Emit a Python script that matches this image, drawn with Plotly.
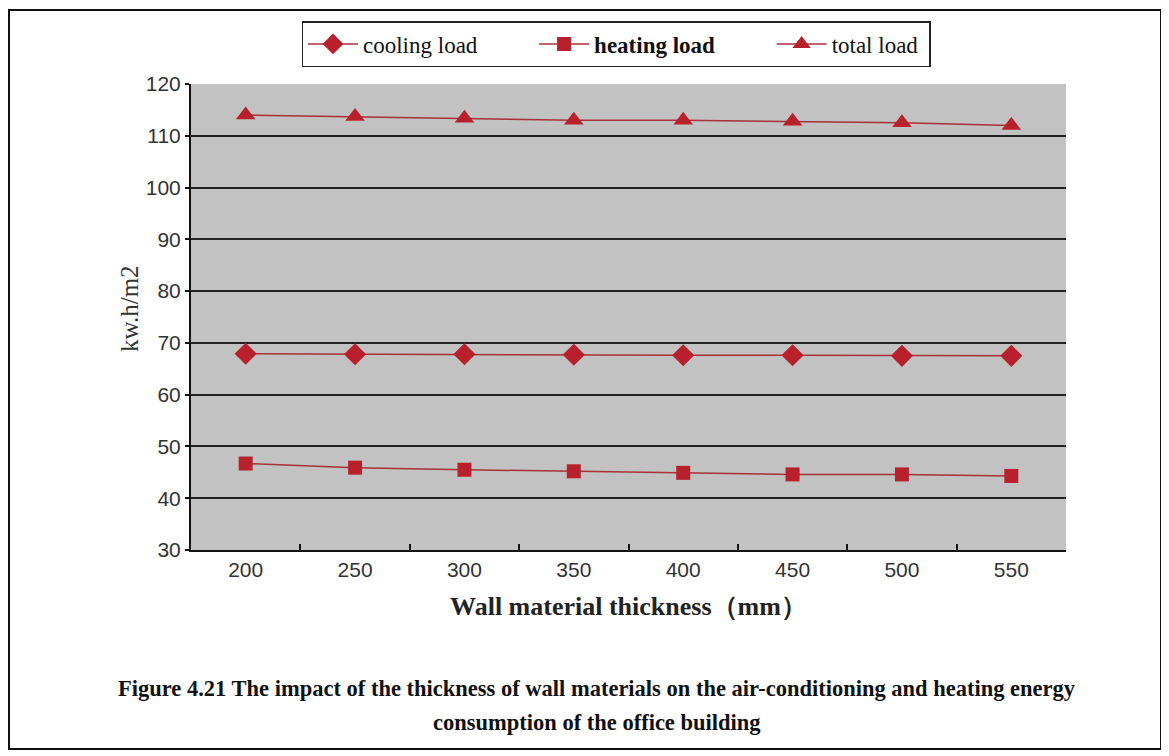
import plotly.graph_objects as go

thickness = ["200", "250", "300", "350", "400", "450", "500", "550"]
cooling_load = [67.9, 67.8, 67.8, 67.7, 67.6, 67.6, 67.5, 67.5]
heating_load = [46.7, 45.9, 45.5, 45.2, 44.9, 44.6, 44.6, 44.3]
total_load = [114.0, 113.7, 113.4, 113.0, 113.0, 112.8, 112.5, 112.0]
y_ticks = [30, 40, 50, 60, 70, 80, 90, 100, 110, 120]

RED = "#b8202c"
LINE = "#a83038"
SERIF = "Liberation Serif, Times New Roman, serif"
SANS = "Liberation Sans, Arial, sans-serif"
GAP = "&nbsp;" * 9

fig = go.Figure()
fig.add_trace(go.Scatter(x=thickness, y=cooling_load, name="cooling load" + GAP, mode="lines+markers",
                         line=dict(color=LINE, width=1.5),
                         marker=dict(symbol="diamond", size=17, color=RED)))
fig.add_trace(go.Scatter(x=thickness, y=heating_load, name="<b>heating load</b>" + GAP, mode="lines+markers",
                         line=dict(color=LINE, width=1.5),
                         marker=dict(symbol="square", size=14, color=RED)))
fig.add_trace(go.Scatter(x=thickness, y=total_load, name="total load&nbsp;", mode="lines+markers",
                         line=dict(color=LINE, width=1.5),
                         marker=dict(symbol="triangle-up", size=17, color=RED)))

OFF = 8  # page body margin
W, H = 1169 - OFF, 756 - OFF
# target plot area in page coords: x 191..1066, y 84..550
L, T = 191 - OFF, 84 - OFF
R = W - (1066 - OFF)
B = H - (550 - OFF)
pw, ph = W - L - R, H - T - B

def px(x):
    return (x - OFF - L) / pw

def py(y):
    return (H - B - (y - OFF)) / ph

fig.update_layout(
    width=W, height=H,
    margin=dict(l=L, r=R, t=T, b=B),
    paper_bgcolor="white",
    plot_bgcolor="#c2c2c2",
    showlegend=True,
    legend=dict(orientation="h", x=px(616), xanchor="center", y=py(21), yanchor="top",
                bgcolor="white", bordercolor="#222", borderwidth=1.5,
                font=dict(family=SERIF, size=23, color="#111"),
                itemwidth=50, tracegroupgap=0),
    xaxis=dict(type="category", range=[-0.5, 7.5], showgrid=False,
               showline=True, linecolor="#111", linewidth=2,
               ticks="inside", tickson="boundaries", ticklen=6, tickcolor="#111", tickwidth=2,
               tickfont=dict(family=SANS, size=21, color="#333"),
               title=dict(text="<b>Wall material thickness（mm）</b>", standoff=17,
                          font=dict(family=SERIF, size=26, color="#222"))),
    yaxis=dict(range=[30, 120], tickvals=y_ticks, showgrid=True, gridcolor="#222", gridwidth=2,
               showline=True, linecolor="#111", linewidth=2, zeroline=False,
               ticks="outside", ticklen=4, tickcolor="#111", tickwidth=2,
               tickfont=dict(family=SANS, size=21, color="#333")),
    shapes=[dict(type="rect", xref="paper", yref="paper",
                 x0=px(9), x1=px(1161), y0=py(749), y1=py(10),
                 line=dict(color="#111", width=2), fillcolor="rgba(0,0,0,0)", layer="below")],
    annotations=[
        dict(text="kw.h/m2", textangle=-90,
             xref="paper", yref="paper", x=px(129), y=py(309), xanchor="center", yanchor="middle",
             showarrow=False, font=dict(family=SERIF, size=25, color="#333")),
        dict(text="<b>Figure 4.21 The impact of the thickness of wall materials on the air-conditioning and heating energy</b>",
             xref="paper", yref="paper", x=px(597), y=py(688), xanchor="center", yanchor="middle",
             showarrow=False, font=dict(family=SERIF, size=22.5, color="#111")),
        dict(text="<b>consumption of the office building</b>",
             xref="paper", yref="paper", x=px(597), y=py(722), xanchor="center", yanchor="middle",
             showarrow=False, font=dict(family=SERIF, size=22.5, color="#111")),
    ],
)

fig.write_html("out.html")
